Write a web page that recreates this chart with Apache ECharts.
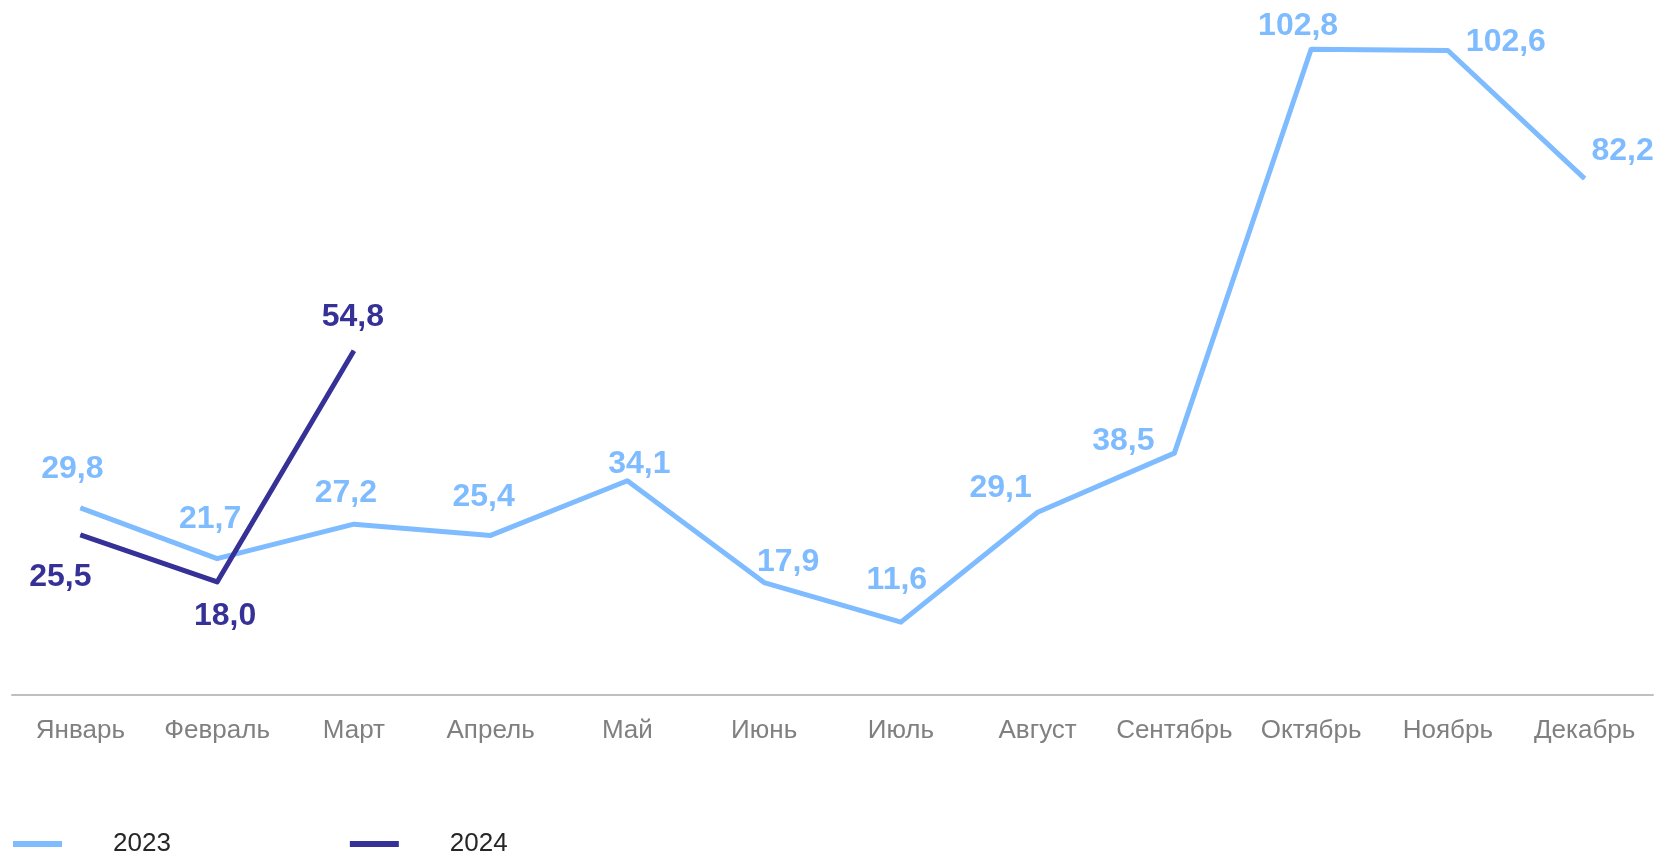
<!DOCTYPE html>
<html lang="ru">
<head>
    <meta charset="UTF-8">
    <title>2023 / 2024</title>
    <script src="https://cdn.jsdelivr.net/npm/echarts@6/dist/echarts.min.js"></script>
    <style>
        html, body { margin: 0; padding: 0; background: #fff; }
        #chart { width: 1660px; height: 856px; }
    </style>
</head>
<body>
<div id="chart"></div>
<script>
    var months = ['Январь', 'Февраль', 'Март', 'Апрель', 'Май', 'Июнь', 'Июль',
        'Август', 'Сентябрь', 'Октябрь', 'Ноябрь', 'Декабрь'];
    var values2023 = [29.8, 21.7, 27.2, 25.4, 34.1, 17.9, 11.6, 29.1, 38.5, 102.8, 102.6, 82.2];
    var values2024 = [25.5, 18.0, 54.8];

    // where each value label sits relative to its point (px)
    var offsets2023 = [[-8, -39], [-7, -40], [-8, -31], [-7, -38], [12, -17], [24, -20],
        [-4, -42], [-37, -24], [-51, -12], [-13, -23], [58, -8], [38, -27]];
    var offsets2024 = [[-20, 42], [8, 34], [-1, -34]];

    var light = '#7fbbff';
    var dark = '#363197';

    function fmt(v) {
        return v.toFixed(1).replace('.', ',');
    }

    function withLabels(vals, offs) {
        return vals.map(function (v, i) {
            return {
                value: v,
                label: { offset: offs[i] }
            };
        });
    }

    function lineSeries(name, vals, offs, color) {
        return {
            name: name,
            type: 'line',
            data: withLabels(vals, offs),
            symbol: 'circle',
            symbolSize: 1,
            itemStyle: { color: color },
            lineStyle: { color: color, width: 5, join: 'round' },
            label: {
                show: true,
                position: 'inside',
                color: color,
                fontFamily: 'Liberation Sans',
                fontWeight: 'bold',
                fontSize: 32,
                formatter: function (p) { return fmt(p.value); }
            },
            animation: false
        };
    }

    var chart = echarts.init(document.getElementById('chart'));
    chart.setOption({
        backgroundColor: '#fff',
        grid: { left: 12, right: 7, top: 4, bottom: 161 },
        xAxis: {
            type: 'category',
            data: months,
            boundaryGap: true,
            axisLine: { lineStyle: { color: '#bfbfbf', width: 2 } },
            axisTick: { show: false },
            axisLabel: {
                color: '#808080',
                fontFamily: 'Liberation Sans',
                fontSize: 26,
                margin: 23,
                interval: 0
            }
        },
        yAxis: {
            type: 'value',
            min: 0,
            max: 110,
            show: false,
            splitLine: { show: false }
        },
        legend: {
            left: 13,
            top: 829,
            padding: 0,
            itemWidth: 49,
            itemHeight: 6,
            itemGap: 179,
            icon: 'rect',
            textStyle: {
                color: '#262626',
                fontFamily: 'Liberation Sans',
                fontSize: 26,
                lineHeight: 30,
                padding: [0, 0, 0, 46]
            },
            data: ['2023', '2024']
        },
        series: [
            lineSeries('2023', values2023, offsets2023, light),
            lineSeries('2024', values2024, offsets2024, dark)
        ]
    });
</script>
</body>
</html>
